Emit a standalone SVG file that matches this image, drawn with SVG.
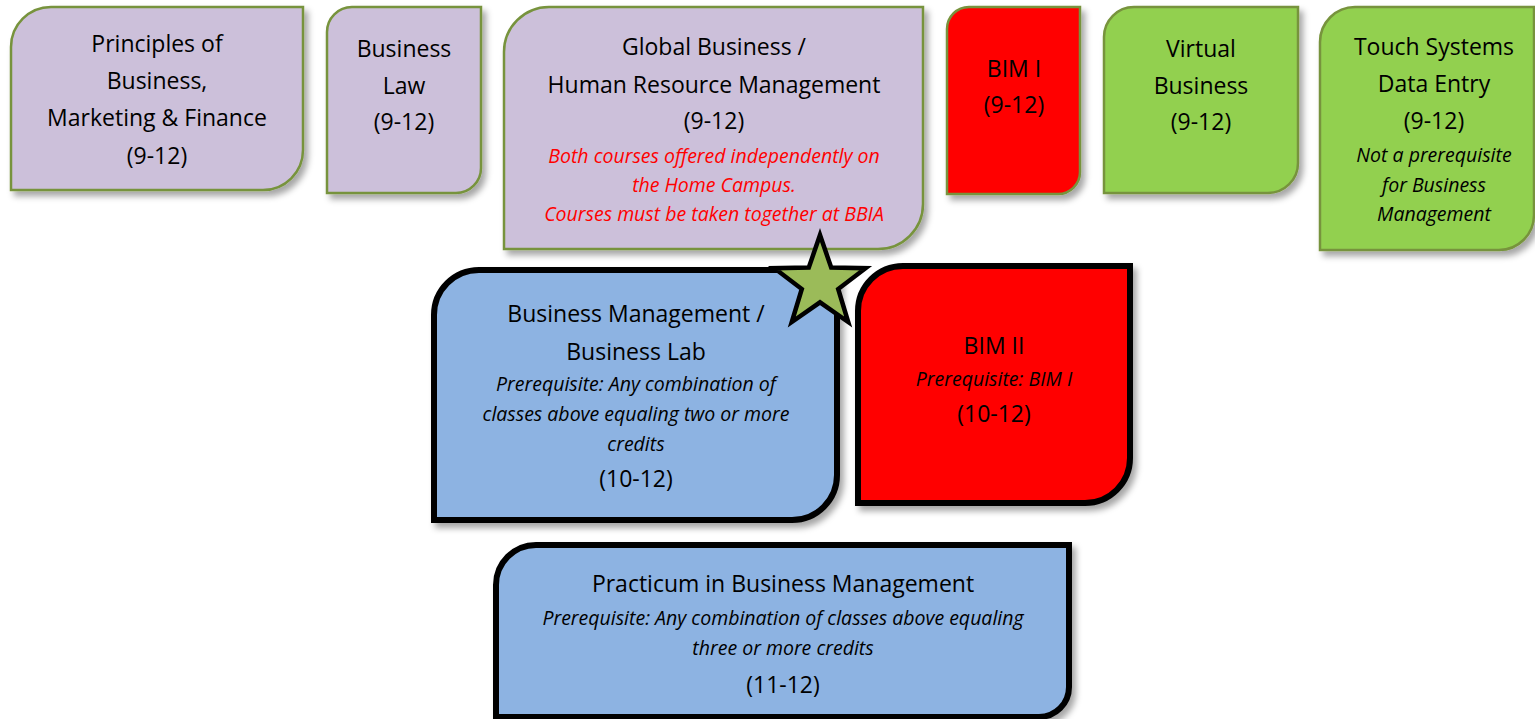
<svg xmlns="http://www.w3.org/2000/svg" width="1535" height="719" viewBox="0 0 1535 719">
<defs>
<filter id="sh" x="-10%" y="-10%" width="130%" height="130%">
<feDropShadow dx="4" dy="5" stdDeviation="3" flood-color="#000" flood-opacity="0.35"/>
</filter>
<style>
.purple{fill:#CCC0DA;stroke:#77933C;stroke-width:2.5;filter:url(#sh)}
.red1{fill:#FF0000;stroke:#77933C;stroke-width:2.5;filter:url(#sh)}
.green{fill:#92D050;stroke:#77933C;stroke-width:2.5;filter:url(#sh)}
.blue{fill:#8DB3E2;stroke:#000;stroke-width:6;filter:url(#sh)}
.red2{fill:#FF0000;stroke:#000;stroke-width:6;filter:url(#sh)}
text{font-family:"Open Sans","Liberation Sans",sans-serif;text-anchor:middle;fill:#000}
.t{font-size:23px}
.i{font-size:19.5px;font-style:italic}
.r{fill:#FF0000}
</style>
</defs>
<g id="connectors"></g>
<g id="principles">
<path class="purple" d="M11,47 A40,40 0 0 1 51,7 H303 V150 A40,40 0 0 1 263,190 H11 Z"/>
<text class="t" x="157" y="52">Principles of</text>
<text class="t" x="157" y="89">Business,</text>
<text class="t" x="157" y="126">Marketing &amp; Finance</text>
<text class="t" x="157" y="164">(9-12)</text>
</g>
<g id="business-law">
<path class="purple" d="M327,32 A25,25 0 0 1 352,7 H481 V168 A25,25 0 0 1 456,193 H327 Z"/>
<text class="t" x="404" y="57">Business</text>
<text class="t" x="404" y="94">Law</text>
<text class="t" x="404" y="130">(9-12)</text>
</g>
<g id="global-business">
<path class="purple" d="M504,52 A45,45 0 0 1 549,7 H923 V204 A45,45 0 0 1 878,249 H504 Z"/>
<text class="t" x="714" y="55">Global Business /</text>
<text class="t" x="714" y="93">Human Resource Management</text>
<text class="t" x="714" y="129">(9-12)</text>
<text class="i r" x="714" y="163">Both courses offered independently on</text>
<text class="i r" x="714" y="192">the Home Campus.</text>
<text class="i r" x="714" y="221">Courses must be taken together at BBIA</text>
</g>
<g id="bim-1">
<path class="red1" d="M947,29 A22,22 0 0 1 969,7 H1080 V172 A22,22 0 0 1 1058,194 H947 Z"/>
<text class="t" x="1014" y="77">BIM I</text>
<text class="t" x="1014" y="113">(9-12)</text>
</g>
<g id="virtual-business">
<path class="green" d="M1104,37 A30,30 0 0 1 1134,7 H1298 V163 A30,30 0 0 1 1268,193 H1104 Z"/>
<text class="t" x="1201" y="57">Virtual</text>
<text class="t" x="1201" y="94">Business</text>
<text class="t" x="1201" y="130">(9-12)</text>
</g>
<g id="touch-systems">
<path class="green" d="M1320,42 A35,35 0 0 1 1355,7 H1534 V215 A35,35 0 0 1 1499,250 H1320 Z"/>
<text class="t" x="1434" y="55">Touch Systems</text>
<text class="t" x="1434" y="92">Data Entry</text>
<text class="t" x="1434" y="129">(9-12)</text>
<text class="i" x="1434" y="162">Not a prerequisite</text>
<text class="i" x="1434" y="192">for Business</text>
<text class="i" x="1434" y="221">Management</text>
</g>
<g id="business-management">
<path class="blue" d="M434,315 A45,45 0 0 1 479,270 H837 V475 A45,45 0 0 1 792,520 H434 Z"/>
<text class="t" x="636" y="322">Business Management /</text>
<text class="t" x="636" y="360">Business Lab</text>
<text class="i" x="636" y="391">Prerequisite: Any combination of</text>
<text class="i" x="636" y="421">classes above equaling two or more</text>
<text class="i" x="636" y="451">credits</text>
<text class="t" x="636" y="487">(10-12)</text>
</g>
<g id="bim-2">
<path class="red2" d="M858,311 A45,45 0 0 1 903,266 H1130 V458 A45,45 0 0 1 1085,503 H858 Z"/>
<text class="t" x="994" y="354">BIM II</text>
<text class="i" x="994" y="386">Prerequisite: BIM I</text>
<text class="t" x="994" y="422">(10-12)</text>
</g>
<g id="practicum">
<path class="blue" d="M496,585 A40,40 0 0 1 536,545 H1069 V687 A30,30 0 0 1 1039,717 H496 Z"/>
<text class="t" x="783" y="592">Practicum in Business Management</text>
<text class="i" x="783" y="625">Prerequisite: Any combination of classes above equaling</text>
<text class="i" x="783" y="655">three or more credits</text>
<text class="t" x="783" y="693">(11-12)</text>
</g>
<g id="star">
<polygon fill="#9BBB59" stroke="#000" stroke-width="4.5" stroke-linejoin="miter" points="820,235 831.2,267.6 865.6,268.2 838.2,289 848.2,322 820,302.3 791.8,322 801.8,289 774.4,268.2 808.8,267.6"/>
</g>
</svg>
